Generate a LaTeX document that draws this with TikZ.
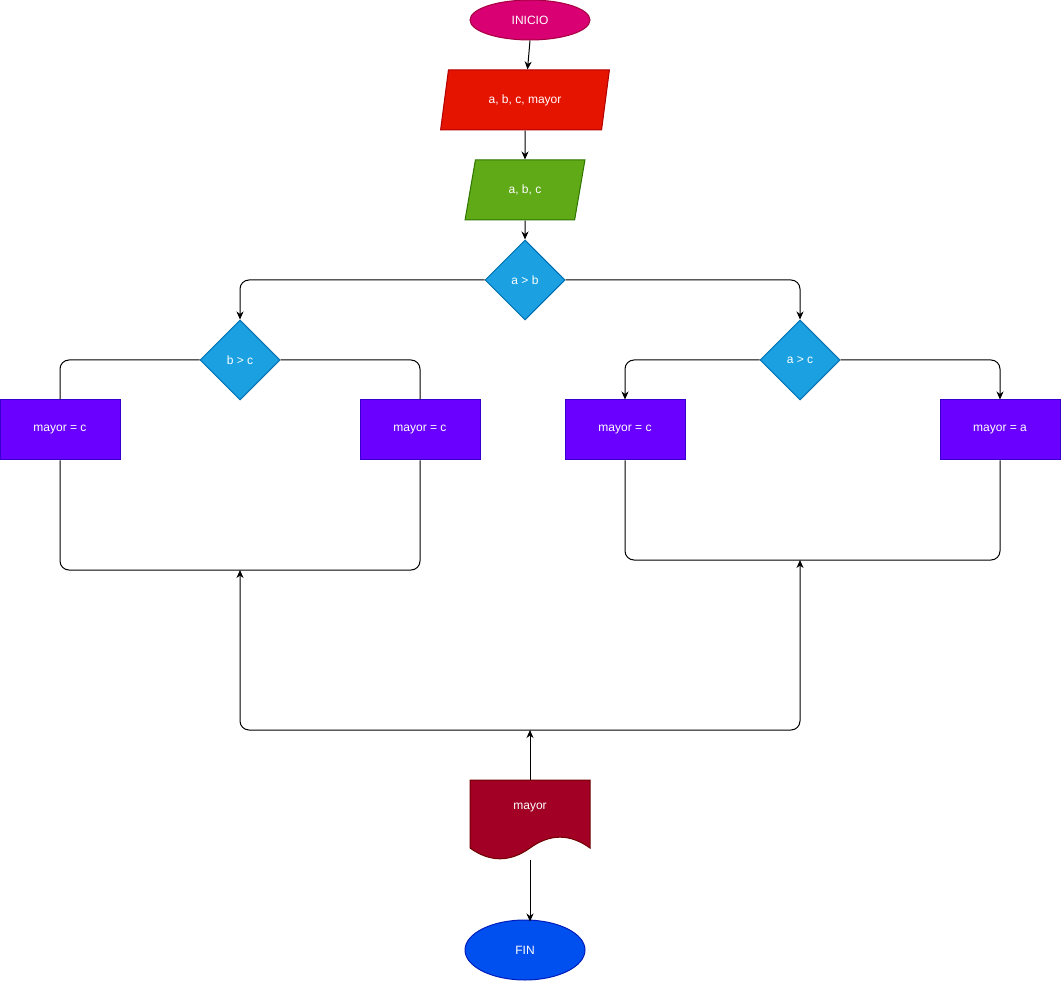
\documentclass[tikz,border=0pt]{standalone}
\usepackage{fontspec}
\setmainfont{Liberation Sans}
\usetikzlibrary{shapes.geometric,arrows.meta}
\definecolor{magF}{HTML}{D80073}\definecolor{magS}{HTML}{A50040}
\definecolor{redF}{HTML}{E51400}\definecolor{redS}{HTML}{B20000}
\definecolor{grnF}{HTML}{60A917}\definecolor{grnS}{HTML}{2D7600}
\definecolor{bluF}{HTML}{1BA1E2}\definecolor{bluS}{HTML}{006EAF}
\definecolor{purF}{HTML}{6A00FF}\definecolor{purS}{HTML}{3700CC}
\definecolor{crmF}{HTML}{A20025}\definecolor{crmS}{HTML}{6F0000}
\definecolor{cobF}{HTML}{0050EF}\definecolor{cobS}{HTML}{001DBC}
\begin{document}
\begin{tikzpicture}[x=1pt,y=-1pt,
  font=\fontsize{12}{14}\selectfont,
  every node/.style={text=white, inner sep=0pt, line width=1pt},
  term/.style={ellipse, minimum width=120pt},
  iobox/.style={trapezium, trapezium left angle=71.57, trapezium right angle=108.43,
     trapezium stretches=true, minimum height=60pt},
  dec/.style={diamond, fill=bluF, draw=bluS, minimum width=80pt, minimum height=80pt},
  proc/.style={rectangle, fill=purF, draw=purS, minimum width=120pt, minimum height=60pt},
  conn/.style={line width=1pt, draw=black},
  arr/.style={conn, -{Stealth[length=8pt,width=7pt,inset=2.5pt]}},
  rc/.style={rounded corners=9pt}]
\useasboundingbox (0,0) rectangle (1061,981);
\node[term, fill=magF, draw=magS, minimum height=40pt] (inicio) at (530,20) {INICIO};
\node[iobox, fill=redF, draw=redS, minimum width=170pt] (p1) at (525,100) {a, b, c, mayor};
\node[iobox, fill=grnF, draw=grnS, minimum width=120pt] (p2) at (525,190) {a, b, c};
\node[dec] (d1) at (525,280) {a > b};
\node[dec] (d2) at (240,360) {b > c};
\node[dec] (d3) at (800,360) {a > c};
\node[proc] (r1) at (60,430) {mayor = c};
\node[proc] (r2) at (420,430) {mayor = c};
\node[proc] (r3) at (625,430) {mayor = c};
\node[proc] (r4) at (1000,430) {mayor = a};
\node[minimum width=120pt, minimum height=80pt] (doc) at (530,820) {};
\fill[crmF, draw=crmS, line width=1pt] (470,780) -- (590,780) -- (590,848)
  .. controls (570,833.6) and (550,833.6) .. (530,848)
  .. controls (510,862.4) and (490,862.4) .. (470,848) -- cycle;
\node (docl) at (530,808) {mayor};
\node[term, fill=cobF, draw=cobS, minimum height=60pt] (fin) at (525,950) {FIN};
\coordinate (j1) at (240,570);
\coordinate (j2) at (800,560);
\coordinate (j3) at (530,730);
\draw[arr] (inicio.south) -- ([xshift=2.5pt]p1.north);
\draw[arr] (p1.south) -- (p2.north);
\draw[arr] (p2.south) -- (d1.north);
\draw[arr, rc] (d1.west) -| (d2.north);
\draw[arr, rc] (d1.east) -| (d3.north);
\draw[conn, rc] (d2.west) -| (r1.north);
\draw[conn, rc] (d2.east) -| (r2.north);
\draw[arr, rc] (d3.west) -| (r3.north);
\draw[arr, rc] (d3.east) -| (r4.north);
\draw[conn, rc] (r1.south) |- (j1) -| (r2.south);
\draw[conn, rc] (r3.south) |- (j2) -| (r4.south);
\draw[arr, rc] (j3) -| (j1);
\draw[arr, rc] (j3) -| (j2);
\draw[arr] (doc.north) -- (j3);
\draw[arr] ([yshift=1pt]doc.south) -- ([yshift=-2pt]fin.north -| doc.south);
\end{tikzpicture}
\end{document}
